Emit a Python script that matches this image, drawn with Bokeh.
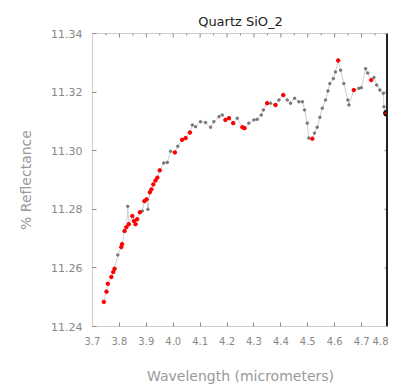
import math
from bokeh.plotting import figure
from bokeh.models import Range1d, Span, FixedTicker, ColumnDataSource, NumeralTickFormatter
from bokeh.embed import file_html
from bokeh.resources import INLINE

title_text = "Quartz SiO_2"
x_label = "Wavelength (micrometers)"
y_label = "% Reflectance"

x_ticks = [3.7, 3.8, 3.9, 4.0, 4.1, 4.2, 4.3, 4.4, 4.5, 4.6, 4.7, 4.8]
y_ticks = [11.24, 11.26, 11.28, 11.30, 11.32, 11.34]

wavelength = [3.742, 3.752, 3.757, 3.770, 3.777, 3.782, 3.794, 3.807, 3.810, 3.819,
              3.826, 3.831, 3.835, 3.848, 3.854, 3.860, 3.866, 3.876, 3.885, 3.893,
              3.901, 3.906, 3.913, 3.919, 3.926, 3.934, 3.941, 3.950, 3.965, 3.978,
              3.990, 4.006, 4.017, 4.033, 4.046, 4.062, 4.071, 4.083, 4.101, 4.120,
              4.139, 4.151, 4.170, 4.182, 4.194, 4.207, 4.223, 4.238, 4.257, 4.265,
              4.281, 4.300, 4.312, 4.327, 4.335, 4.349, 4.362, 4.380, 4.393, 4.409,
              4.424, 4.436, 4.451, 4.467, 4.480, 4.488, 4.498, 4.504, 4.517, 4.525,
              4.535, 4.545, 4.554, 4.566, 4.575, 4.582, 4.595, 4.603, 4.613, 4.622,
              4.634, 4.649, 4.653, 4.671, 4.690, 4.699, 4.715, 4.723, 4.736, 4.746,
              4.756, 4.768, 4.781, 4.783, 4.793]
reflectance = [11.2484, 11.2519, 11.2546, 11.2569, 11.2586, 11.2597, 11.2644, 11.2671, 11.2681, 11.2726,
               11.2739, 11.2810, 11.2749, 11.2777, 11.2760, 11.2749, 11.2766, 11.2790, 11.2794, 11.2828,
               11.2834, 11.2800, 11.2858, 11.2868, 11.2885, 11.2898, 11.2908, 11.2933, 11.2958, 11.2960,
               11.2998, 11.2994, 11.3015, 11.3037, 11.3043, 11.3062, 11.3088, 11.3082, 11.3099, 11.3096,
               11.3080, 11.3099, 11.3116, 11.3122, 11.3105, 11.3111, 11.3094, 11.3111, 11.3080, 11.3077,
               11.3094, 11.3105, 11.3107, 11.3122, 11.3139, 11.3162, 11.3162, 11.3156, 11.3173, 11.3190,
               11.3173, 11.3162, 11.3179, 11.3167, 11.3167, 11.3139, 11.3094, 11.3043, 11.3041, 11.3060,
               11.3080, 11.3114, 11.3145, 11.3173, 11.3204, 11.3229, 11.3246, 11.3269, 11.3308, 11.3275,
               11.3229, 11.3173, 11.3156, 11.3207, 11.3213, 11.3215, 11.3280, 11.3265, 11.3241, 11.3250,
               11.3224, 11.3207, 11.3196, 11.3150, 11.3128]
flagged = [1, 1, 1, 1, 1, 1, 0, 1, 1, 1,
           1, 0, 1, 1, 1, 1, 1, 1, 0, 1,
           1, 0, 1, 1, 1, 1, 1, 1, 0, 0,
           0, 1, 0, 1, 1, 1, 0, 0, 0, 0,
           0, 0, 0, 0, 1, 1, 1, 0, 1, 1,
           0, 0, 0, 0, 0, 1, 0, 1, 0, 1,
           0, 0, 0, 0, 0, 0, 0, 0, 1, 0,
           0, 0, 0, 0, 0, 0, 0, 0, 1, 0,
           0, 0, 0, 1, 0, 0, 0, 0, 1, 0,
           0, 0, 0, 0, 1]
edge_x = 4.8

src = ColumnDataSource(dict(x=wavelength, y=reflectance))
red_src = ColumnDataSource(dict(
    x=[w for w, f in zip(wavelength, flagged) if f],
    y=[r for r, f in zip(reflectance, flagged) if f]))
last_src = ColumnDataSource(dict(x=wavelength[-1:], y=reflectance[-1:]))

p = figure(width=388, height=386, output_backend="svg", toolbar_location=None,
           x_range=Range1d(x_ticks[0], x_ticks[-1]), y_range=Range1d(y_ticks[0], y_ticks[-1]),
           min_border_left=92, min_border_right=0, min_border_top=33, min_border_bottom=58)

p.title.text = title_text
p.title.align = "center"
p.title.text_font = "DejaVu Sans"
p.title.text_font_size = "13px"
p.title.text_font_style = "normal"
p.title.text_color = "#222222"

p.background_fill_color = "white"
p.border_fill_color = "white"
p.outline_line_color = "#cccccc"
p.grid.visible = False

xt = FixedTicker(ticks=x_ticks, num_minor_ticks=2)
yt = FixedTicker(ticks=y_ticks, num_minor_ticks=5)

xa = p.xaxis[0]
ya = p.yaxis[0]
xa.ticker = xt
xa.formatter = NumeralTickFormatter(format="0.0")
xa.axis_label = x_label
ya.ticker = yt
ya.formatter = NumeralTickFormatter(format="0.00")
ya.axis_label = y_label

for ax in [xa, ya]:
    ax.axis_line_color = "#cccccc"
    ax.major_tick_line_color = "#888888"
    ax.minor_tick_line_color = "#888888"
    ax.major_tick_in = 4
    ax.major_tick_out = 0
    ax.minor_tick_in = 2
    ax.minor_tick_out = 0
    ax.major_label_text_font = "DejaVu Sans"
    ax.major_label_text_color = "#888888"
    ax.major_label_standoff = 10
    ax.axis_label_text_font = "DejaVu Sans"
    ax.axis_label_text_font_style = "normal"
    ax.axis_label_text_color = "#999999"
    ax.axis_label_text_font_size = "14px"
xa.major_label_text_font_size = "10px"
ya.major_label_text_font_size = "11px"
xa.axis_label_standoff = 20
ya.axis_label_standoff = 14

# tick marks mirrored on the top and right frame edges
x_minor = [a + (b - a) / 2 for a, b in zip(x_ticks[:-1], x_ticks[1:])]
y_minor = [a + (b - a) * k / 5 for a, b in zip(y_ticks[:-1], y_ticks[1:]) for k in (1, 2, 3, 4)]
p.scatter(x=x_ticks, y=[y_ticks[-1]] * len(x_ticks), marker="dash", angle=math.pi / 2,
          size=8, line_color="#888888", line_width=1)
p.scatter(x=x_minor, y=[y_ticks[-1]] * len(x_minor), marker="dash", angle=math.pi / 2,
          size=4, line_color="#888888", line_width=1)
p.scatter(x=[x_ticks[-1]] * len(y_ticks), y=y_ticks, marker="dash",
          size=8, line_color="#888888", line_width=1)
p.scatter(x=[x_ticks[-1]] * len(y_minor), y=y_minor, marker="dash",
          size=4, line_color="#888888", line_width=1)

p.line("x", "y", source=src, line_color="#cfcfcf", line_width=1)
p.scatter("x", "y", source=src, size=2.5, color="#777777")
p.scatter("x", "y", source=last_src, size=6, color="black")
p.scatter("x", "y", source=red_src, size=3.5, color="red")

p.add_layout(Span(location=edge_x, dimension="height", line_color="#222222", line_width=5))

open("out.html", "w").write(file_html(p, INLINE))
